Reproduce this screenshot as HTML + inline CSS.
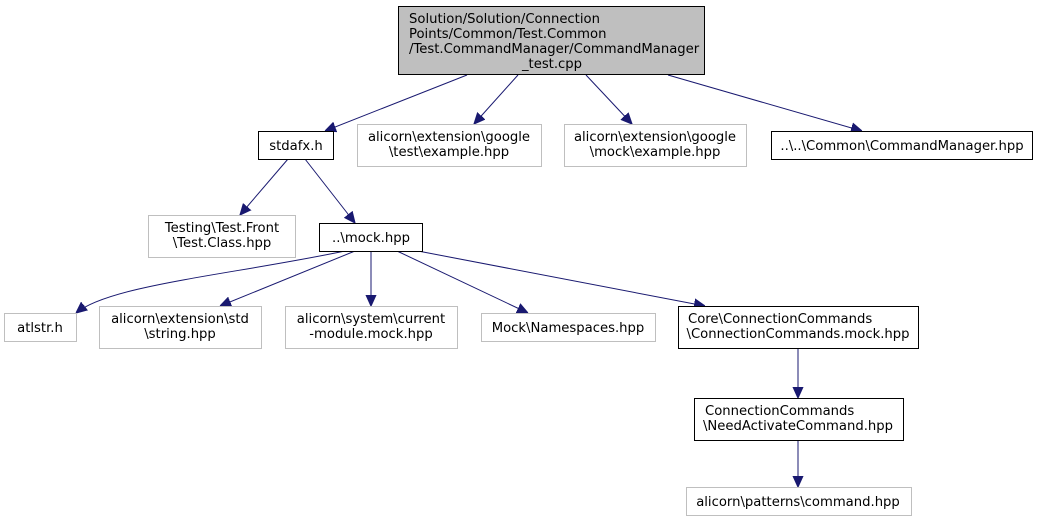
<!DOCTYPE html>
<html><head><meta charset="utf-8"><style>
html,body{margin:0;padding:0;background:#fff;}
svg{display:block;}
text{font-family:"DejaVu Sans","Liberation Sans",sans-serif;font-size:13.2px;fill:#000;}
.c{text-anchor:middle;}
</style></head><body>
<svg width="1039" height="520" viewBox="0 0 1039 520" xmlns="http://www.w3.org/2000/svg">
<defs>
<marker id="a" viewBox="0 0 10 10" refX="10" refY="5" markerWidth="11" markerHeight="11" markerUnits="userSpaceOnUse" orient="auto">
<path d="M0,0.5 L10,5 L0,9.5 z" fill="#191970" stroke="#191970"/>
</marker>
</defs>
<g stroke="#191970" stroke-width="1" fill="none" marker-end="url(#a)">
<path d="M467,75 L325,131"/>
<path d="M518,75 L474,124"/>
<path d="M586,75 L632,124"/>
<path d="M668,75 L862,131"/>
<path d="M288,159 L240,215"/>
<path d="M305,159 L355,223"/>
<path d="M345,251 C230,275 110,285 76,313"/>
<path d="M355,251 L220,306"/>
<path d="M371,251 L371,306"/>
<path d="M397,251 L528,313"/>
<path d="M418,251 L705,306"/>
<path d="M798,348 L798,398"/>
<path d="M798,440 L798,487"/>
</g>
<g stroke-width="1">
<rect x="398.5" y="6.5" width="306" height="68" fill="#bfbfbf" stroke="#000"/>
<rect x="258.5" y="131.5" width="75" height="28" fill="#fff" stroke="#000"/>
<rect x="357.5" y="124.5" width="184" height="42" fill="#fff" stroke="#bfbfbf"/>
<rect x="564.5" y="124.5" width="182" height="42" fill="#fff" stroke="#bfbfbf"/>
<rect x="771.5" y="131.5" width="261" height="28" fill="#fff" stroke="#000"/>
<rect x="148.5" y="215.5" width="147" height="42" fill="#fff" stroke="#bfbfbf"/>
<rect x="319.5" y="223.5" width="103" height="28" fill="#fff" stroke="#000"/>
<rect x="4.5" y="313.5" width="72" height="28" fill="#fff" stroke="#bfbfbf"/>
<rect x="99.5" y="306.5" width="162" height="42" fill="#fff" stroke="#bfbfbf"/>
<rect x="285.5" y="306.5" width="172" height="42" fill="#fff" stroke="#bfbfbf"/>
<rect x="481.5" y="313.5" width="174" height="28" fill="#fff" stroke="#bfbfbf"/>
<rect x="678.5" y="306.5" width="240" height="42" fill="#fff" stroke="#000"/>
<rect x="694.5" y="398.5" width="209" height="42" fill="#fff" stroke="#000"/>
<rect x="686.5" y="487.5" width="225" height="28" fill="#fff" stroke="#bfbfbf"/>
</g>
<text x="409" y="23">Solution/Solution/Connection</text>
<text x="409" y="38">Points/Common/Test.Common</text>
<text x="409" y="53">/Test.CommandManager/CommandManager</text>
<text class="c" x="552" y="68">_test.cpp</text>
<text class="c" x="296" y="150">stdafx.h</text>
<text class="c" x="449" y="141">alicorn\extension\google</text>
<text class="c" x="449" y="156">\test\example.hpp</text>
<text class="c" x="655" y="141">alicorn\extension\google</text>
<text class="c" x="655" y="156">\mock\example.hpp</text>
<text class="c" x="902" y="150">..\..\Common\CommandManager.hpp</text>
<text class="c" x="222" y="232">Testing\Test.Front</text>
<text class="c" x="222" y="247">\Test.Class.hpp</text>
<text class="c" x="371" y="242">..\mock.hpp</text>
<text class="c" x="40" y="332">atlstr.h</text>
<text class="c" x="180" y="323">alicorn\extension\std</text>
<text class="c" x="180" y="338">\string.hpp</text>
<text class="c" x="371" y="323">alicorn\system\current</text>
<text class="c" x="371" y="338">-module.mock.hpp</text>
<text class="c" x="568" y="332">Mock\Namespaces.hpp</text>
<text x="688" y="323">Core\ConnectionCommands</text>
<text class="c" x="798" y="338">\ConnectionCommands.mock.hpp</text>
<text x="705" y="415">ConnectionCommands</text>
<text class="c" x="798" y="430">\NeedActivateCommand.hpp</text>
<text class="c" x="798" y="506">alicorn\patterns\command.hpp</text>
</svg>
</body></html>
